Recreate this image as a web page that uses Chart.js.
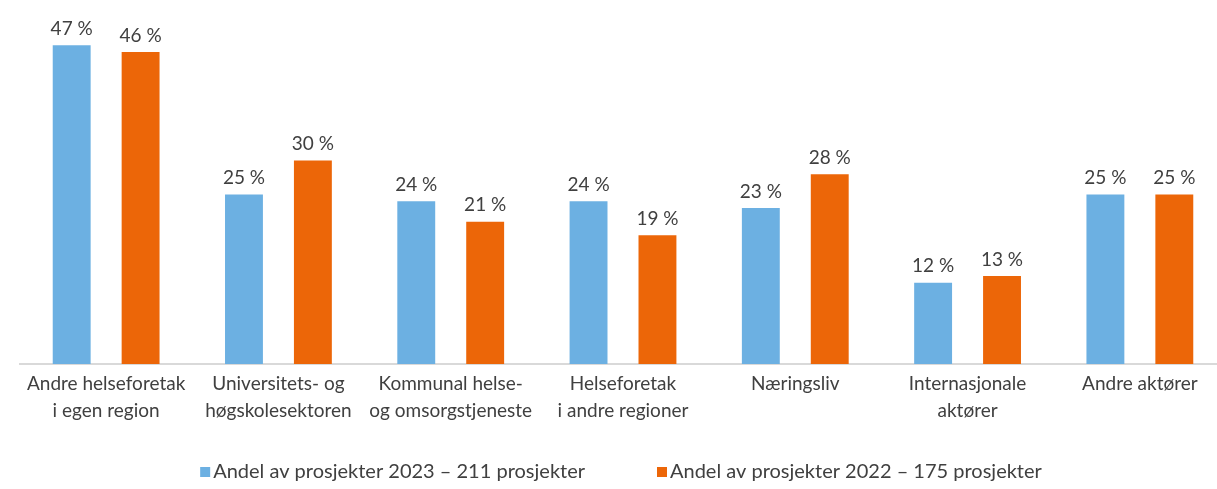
<!DOCTYPE html>
<html>
<head>
<meta charset="utf-8">
<script src="https://cdn.jsdelivr.net/npm/chart.js@4"></script>
<style>
  html, body { margin: 0; padding: 0; background: #fff; overflow: hidden; }
  #wrap { width: 1230px; height: 489px; }
</style>
</head>
<body>
<div id="wrap"><canvas id="myChart"></canvas></div>
<script>
// Kategorier og andeler (prosent)
const categories = [
    ['Andre helseforetak', 'i egen region'],
    ['Universitets- og', 'høgskolesektoren'],
    ['Kommunal helse-', 'og omsorgstjeneste'],
    ['Helseforetak', 'i andre regioner'],
    ['Næringsliv'],
    ['Internasjonale', 'aktører'],
    ['Andre aktører']
];
const share2023 = [47, 25, 24, 24, 23, 12, 25];
const share2022 = [46, 30, 21, 19, 28, 13, 25];
const seriesNames = [
    'Andel av prosjekter 2023 – 211 prosjekter',
    'Andel av prosjekter 2022 – 175 prosjekter'
];

const textColor = '#404040';
const fontFamily = 'Lato, "Open Sans", sans-serif';

// Write the value above each bar, e.g. "47 %"
const valueLabels = {
    id: 'valueLabels',
    afterDatasetsDraw(chart) {
        const ctx = chart.ctx;
        ctx.save();
        ctx.font = '19px ' + fontFamily;
        ctx.fillStyle = textColor;
        ctx.textAlign = 'center';
        ctx.textBaseline = 'bottom';
        chart.data.datasets.forEach((ds, i) => {
            chart.getDatasetMeta(i).data.forEach((bar, j) => {
                ctx.fillText(ds.data[j] + ' %', bar.x, bar.y - 7);
            });
        });
        ctx.restore();
    }
};

// Legend along the bottom: small square + series name, with a wide gap between items
const bottomLegend = {
    id: 'bottomLegend',
    afterDraw(chart) {
        const ctx = chart.ctx;
        const box = 10, textGap = 3, itemGap = 72;
        ctx.save();
        ctx.font = '20px ' + fontFamily;
        ctx.textBaseline = 'middle';
        ctx.textAlign = 'left';
        const items = chart.data.datasets.map(ds => ({
            text: ds.label,
            color: ds.backgroundColor,
            width: box + textGap + ctx.measureText(ds.label).width
        }));
        const total = items.reduce((s, it) => s + it.width, 0) + itemGap * (items.length - 1);
        let x = chart.width / 2 + 6 - total / 2;
        const y = chart.height - 17;
        items.forEach(it => {
            ctx.fillStyle = it.color;
            ctx.fillRect(x, y - box / 2, box, box);
            ctx.fillStyle = textColor;
            ctx.fillText(it.text, x + box + textGap, y);
            x += it.width + itemGap;
        });
        ctx.restore();
    }
};

const ctx = document.getElementById('myChart').getContext('2d');
const chart = new Chart(ctx, {
    type: 'bar',
    data: {
        labels: categories,
        datasets: [{
            label: seriesNames[0],
            data: share2023,
            backgroundColor: 'rgb(108, 176, 226)',
            categoryPercentage: 0.8,
            barPercentage: 0.55
        }, {
            label: seriesNames[1],
            data: share2022,
            backgroundColor: 'rgb(236, 102, 8)',
            categoryPercentage: 0.8,
            barPercentage: 0.55
        }]
    },
    options: {
        responsive: true,
        maintainAspectRatio: false,
        animation: false,
        layout: {
            padding: { left: 20, right: 4, top: 25, bottom: 59 }
        },
        plugins: {
            tooltip: { enabled: false },
            legend: { display: false }
        },
        scales: {
            x: {
                grid: { display: false, drawTicks: false },
                border: { display: true, color: '#d9d9d9', width: 2 },
                ticks: {
                    color: textColor,
                    font: { family: fontFamily, size: 19, lineHeight: 1.42 },
                    maxRotation: 0,
                    autoSkip: false,
                    padding: 6
                }
            },
            y: {
                display: false,
                min: 0,
                max: 50
            }
        }
    },
    plugins: [valueLabels, bottomLegend]
});
</script>
</body>
</html>
